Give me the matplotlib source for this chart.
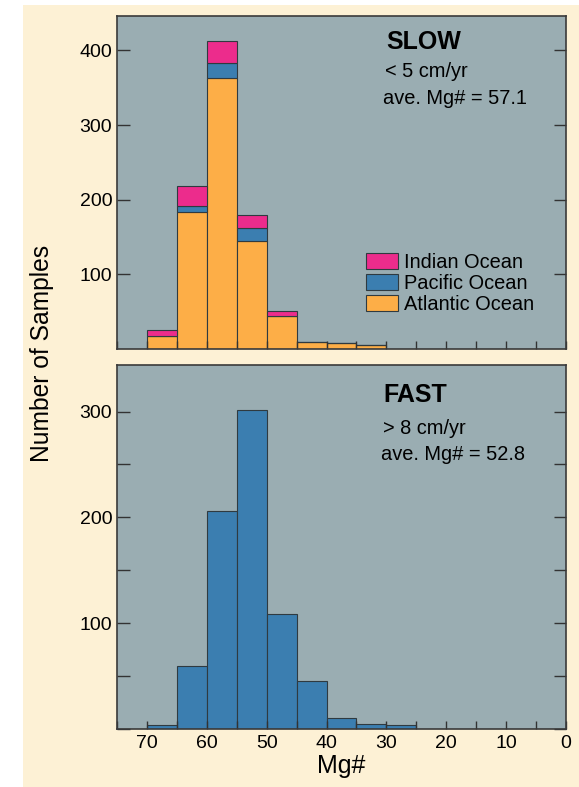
import numpy as np
import matplotlib
matplotlib.use("Agg")
import matplotlib.pyplot as plt
from matplotlib.patches import Rectangle, Patch
from matplotlib.ticker import MultipleLocator

plt.rcParams['font.family'] = ['Liberation Sans', 'DejaVu Sans']

# bin edges (Mg#), high to low
slow_left = [70, 65, 60, 55, 50, 45, 40, 35]
slow_atlantic = [18, 183, 363, 144, 44, 10, 8, 5]
slow_pacific = [0, 9, 20, 18, 0, 0, 0, 0]
slow_indian = [8, 26, 30, 18, 7, 0, 0, 0]

fast_left = [70, 65, 60, 55, 50, 45, 40, 35, 30]
fast_counts = [4, 60, 206, 301, 109, 45, 10, 5, 4]

bin_width = 5

c_bg = '#fdf1d5'
c_ax = '#9aadb2'
c_pink = '#ec2c8c'
c_blue = '#3b7eb0'
c_orange = '#fdae47'
c_edge = '#2f3a40'

fig = plt.figure(figsize=(5.79, 7.87), dpi=100, facecolor='white')
fig.patches.append(Rectangle((23 / 579, 0), 1 - 23 / 579, 1 - 5 / 787,
                             transform=fig.transFigure, facecolor=c_bg,
                             edgecolor='none', zorder=-10))

ax1 = fig.add_axes([117 / 579, 1 - 349 / 787, 449 / 579, 333 / 787])
ax2 = fig.add_axes([117 / 579, 1 - 729 / 787, 449 / 579, 364 / 787])

for ax in (ax1, ax2):
    ax.set_facecolor(c_ax)
    ax.set_xlim(75, 0)
    ax.xaxis.set_major_locator(MultipleLocator(10))
    ax.xaxis.set_minor_locator(MultipleLocator(5))
    ax.tick_params(which='both', direction='in', left=True, right=True,
                   bottom=True, top=False, labelsize=14, color='#333333')
    ax.tick_params(axis='y', which='both', length=9, width=1)
    ax.tick_params(axis='x', which='both', length=6, width=1)
    for s in ax.spines.values():
        s.set_color('#3a3a3a')
        s.set_linewidth(1.2)

# SLOW panel (stacked)
lefts1 = np.array(slow_left)
atl = np.array(slow_atlantic)
pac = np.array(slow_pacific)
ind = np.array(slow_indian)
kw = dict(width=-bin_width, align='edge', edgecolor=c_edge, linewidth=0.8)
ax1.bar(lefts1, atl, color=c_orange, **kw)
ax1.bar(lefts1, pac, bottom=atl, color=c_blue, **kw)
ax1.bar(lefts1, ind, bottom=atl + pac, color=c_pink, **kw)
ax1.set_ylim(0, 446)
ax1.set_yticks([100, 200, 300, 400])
ax1.tick_params(labelbottom=False)

ax1.text(0.684, 0.921, 'SLOW', transform=ax1.transAxes, fontsize=18,
         fontweight='bold', ha='center', va='center')
ax1.text(0.597, 0.833, '< 5 cm/yr', transform=ax1.transAxes, fontsize=14.4,
         ha='left', va='center')
ax1.text(0.592, 0.753, 'ave. Mg# = 57.1', transform=ax1.transAxes,
         fontsize=14.4, ha='left', va='center')

handles = [Patch(facecolor=c_pink, edgecolor=c_edge, linewidth=0.8),
           Patch(facecolor=c_blue, edgecolor=c_edge, linewidth=0.8),
           Patch(facecolor=c_orange, edgecolor=c_edge, linewidth=0.8)]
ax1.legend(handles, ['Indian Ocean', 'Pacific Ocean', 'Atlantic Ocean'],
           loc='lower left', bbox_to_anchor=(0.554, 0.105), frameon=False,
           fontsize=14.4, handlelength=1.6, handleheight=0.8,
           handletextpad=0.3, labelspacing=0.1, borderpad=0,
           borderaxespad=0)

# FAST panel
ax2.bar(np.array(fast_left), fast_counts, color=c_blue, **kw)
ax2.set_ylim(0, 344)
ax2.set_yticks([100, 200, 300])
ax2.yaxis.set_minor_locator(MultipleLocator(50))
ax2.set_xticks([70, 60, 50, 40, 30, 20, 10, 0])
ax2.set_xlabel('Mg#', fontsize=18, labelpad=2)
ax2.tick_params(axis='x', pad=4)

ax2.text(0.664, 0.918, 'FAST', transform=ax2.transAxes, fontsize=18,
         fontweight='bold', ha='center', va='center')
ax2.text(0.592, 0.826, '> 8 cm/yr', transform=ax2.transAxes, fontsize=14.4,
         ha='left', va='center')
ax2.text(0.589, 0.755, 'ave. Mg# = 52.8', transform=ax2.transAxes,
         fontsize=14.4, ha='left', va='center')

fig.text(42 / 579, 1 - 353 / 787, 'Number of Samples', rotation=90,
         fontsize=17.7, ha='center', va='center')

fig.savefig('out.png', dpi=100, facecolor=fig.get_facecolor())
